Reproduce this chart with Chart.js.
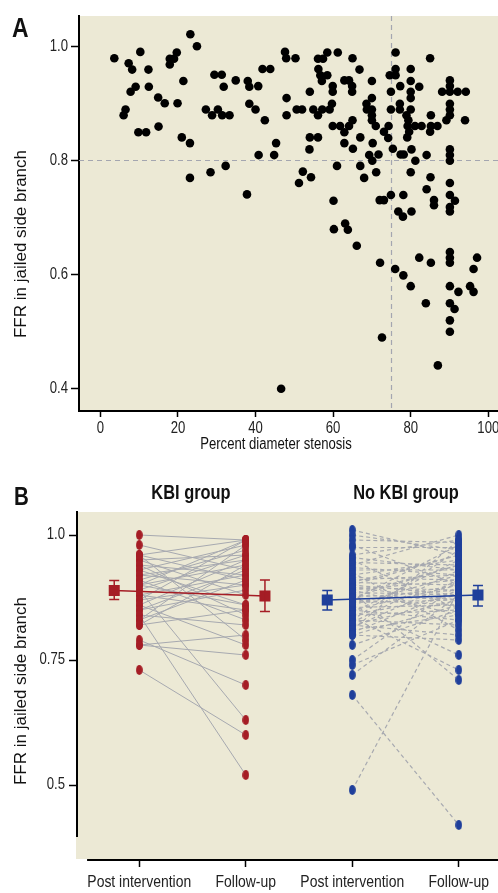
<!DOCTYPE html>
<html><head><meta charset="utf-8">
<script src="https://cdn.jsdelivr.net/npm/chart.js@4.4.1/dist/chart.umd.min.js"></script>
<style>
html,body{margin:0;padding:0;background:#fff;width:498px;height:893px;overflow:hidden;}
#wrap{position:relative;width:498px;height:893px;}
canvas{position:absolute;left:0;}
.t{position:absolute;white-space:nowrap;color:#111;font-family:'Liberation Sans',Arial,sans-serif;}
.cond{transform:scaleX(0.82);}
.condL{transform:scaleX(0.82);transform-origin:left center;}
.rot{transform:rotate(-90deg);text-align:center;}
</style></head>
<body><div id="wrap">
<canvas id="cA" width="498" height="460" style="top:0"></canvas>
<canvas id="cB" width="498" height="423" style="top:470px"></canvas>
<div class="t condL" style="left:12px;top:14px;font-size:28px;line-height:28px;font-weight:bold;">A</div>
<div class="t condL" style="left:14px;top:484px;font-size:25px;line-height:25px;font-weight:bold;">B</div>
<div class="t cond" id="g1" style="left:91px;width:200px;text-align:center;top:482px;font-size:20px;line-height:20px;font-weight:bold;"></div>
<div class="t cond" id="g2" style="left:306px;width:200px;text-align:center;top:482px;font-size:20px;line-height:20px;font-weight:bold;"></div>
<div class="t rot" id="yA" style="left:-109px;width:260px;top:234px;font-size:17px;line-height:20px;"></div>
<div class="t rot" id="yB" style="left:-109px;width:260px;top:681px;font-size:17px;line-height:20px;"></div>
<div class="t cond" id="xA" style="left:176px;width:200px;text-align:center;top:436px;font-size:16px;line-height:16px;"></div>
</div>
<script>
// ---------- Panel A data ----------
const stenosis = [3.6,7.3,8.2,10.3,9.1,7.8,6.5,6.0,9.8,11.8,12.4,12.5,14.9,16.6,15.0,17.9,19.0,17.9,19.7,21.4,
19.9,21.0,23.1,23.2,24.9,23.1,28.4,32.3,29.4,31.3,31.8,34.9,27.2,28.8,30.3,31.4,33.3,38.0,38.4,38.4,
37.8,40.7,40.0,41.8,43.8,42.4,47.6,47.9,50.3,48.0,48.0,50.6,52.0,45.3,40.8,44.8,54.0,56.1,57.4,58.5,
61.2,56.2,56.7,57.1,58.5,54.9,57.2,59.1,59.7,56.1,54.0,56.1,53.9,59.9,59.9,59.9,61.8,62.9,64.1,65.0,
62.9,65.1,61.0,52.2,51.2,54.3,60.1,62.9,64.1,64.9,64.9,65.0,66.8,70.0,70.0,68.6,68.7,70.0,70.0,70.0,
71.0,67.0,70.2,69.3,70.1,71.1,68.0,71.7,67.0,74.3,73.1,74.2,74.9,74.9,74.6,76.1,76.1,76.1,77.3,77.2,
77.2,75.4,74.9,78.1,72.0,73.1,76.8,78.0,80.2,77.4,78.2,80.0,80.0,80.0,80.0,80.0,82.2,78.9,79.4,79.2,
79.6,79.1,81.1,82.8,80.2,81.2,80.0,84.1,85.0,85.2,85.2,85.0,86.9,85.1,84.1,86.0,86.0,90.1,90.1,88.1,
90.1,92.1,94.2,90.1,90.1,90.1,89.2,94.0,90.1,90.1,90.1,90.1,90.1,91.4,90.1,90.1,60.2,63.1,63.8,66.1,
72.1,76.0,78.1,80.0,82.2,85.2,90.1,90.1,90.1,97.1,96.2,90.1,92.3,95.3,96.2,83.9,90.1,91.3,90.1,90.1,
72.6,87.0,46.6];
const ffrA = [0.979,0.970,0.959,0.990,0.929,0.920,0.889,0.879,0.849,0.849,0.959,0.929,0.910,0.900,0.859,0.978,0.978,0.968,0.989,0.939,
0.900,0.840,0.830,1.021,1.000,0.769,0.779,0.790,0.950,0.950,0.929,0.940,0.889,0.879,0.889,0.879,0.879,0.939,0.929,0.899,
0.740,0.930,0.889,0.960,0.960,0.870,0.990,0.979,0.979,0.909,0.879,0.889,0.889,0.830,0.809,0.809,0.920,0.978,0.978,0.989,
0.989,0.960,0.949,0.939,0.949,0.889,0.889,0.889,0.899,0.879,0.840,0.840,0.819,0.930,0.920,0.860,0.860,0.849,0.860,0.870,
0.830,0.820,0.790,0.780,0.760,0.770,0.729,0.940,0.940,0.930,0.920,0.979,0.959,0.939,0.909,0.899,0.889,0.889,0.879,0.870,
0.860,0.840,0.830,0.809,0.799,0.779,0.769,0.810,0.790,0.860,0.850,0.839,0.920,0.889,0.949,0.949,0.960,0.989,0.930,0.899,
0.889,0.820,0.739,0.739,0.730,0.730,0.710,0.701,0.710,0.810,0.810,0.960,0.939,0.920,0.909,0.889,0.929,0.879,0.870,0.860,
0.850,0.840,0.860,0.860,0.819,0.799,0.779,0.809,0.979,0.879,0.860,0.850,0.860,0.770,0.749,0.730,0.721,0.940,0.930,0.920,
0.920,0.920,0.920,0.899,0.889,0.879,0.870,0.870,0.819,0.809,0.799,0.760,0.739,0.729,0.718,0.710,0.679,0.689,0.678,0.650,
0.620,0.609,0.598,0.579,0.629,0.620,0.639,0.629,0.620,0.629,0.609,0.579,0.569,0.579,0.569,0.549,0.549,0.539,0.519,0.499,
0.489,0.440,0.399];
const xTicksA = [0,20,40,60,80,100];
const yTicksA = [0.4,0.6,0.8,1.0];
const yTickLabelsA = ['0.4','0.6','0.8','1.0'];
const refStenosis = 75;
const refFFR = 0.8;
const xTitleA = 'Percent diameter stenosis';
const yTitle = 'FFR in jailed side branch';

// ---------- Panel B data ----------
const groups = ['KBI group','No KBI group'];
const timepoints = ['Post intervention','Follow-up','Post intervention','Follow-up'];
const kbiPost   = [1.00,0.98,0.96,0.95,0.95,0.94,0.94,0.93,0.93,0.92,0.92,0.91,0.91,0.90,0.90,0.89,0.89,0.88,0.88,0.87,
                   0.87,0.86,0.86,0.85,0.85,0.84,0.84,0.83,0.83,0.82,0.82,0.79,0.78,0.78,0.73,0.96,0.96,0.90];
const kbiFollow = [0.99,0.93,0.99,0.88,0.96,0.84,0.92,0.98,0.86,0.95,0.90,0.83,0.97,0.94,0.86,0.63,0.96,0.92,0.85,0.99,
                   0.90,0.78,0.95,0.89,0.93,0.52,0.82,0.98,0.91,0.85,0.94,0.70,0.80,0.76,0.60,0.91,0.79,0.99];
const noKbiPost   = [1.01,1.00,0.99,0.98,0.975,0.96,0.955,0.95,0.945,0.94,0.935,0.93,0.925,0.92,0.915,0.91,0.905,0.90,0.90,0.895,
                     0.89,0.89,0.885,0.88,0.88,0.875,0.87,0.87,0.865,0.86,0.86,0.855,0.85,0.85,0.845,0.84,0.84,0.835,0.83,0.83,
                     0.825,0.82,0.82,0.815,0.81,0.81,0.805,0.80,0.80,0.78,0.75,0.74,0.72,0.68,0.49,0.905,0.895,0.885,0.875,0.865];
const noKbiFollow = [0.96,0.97,0.985,0.90,0.975,0.99,0.93,0.85,0.94,1.00,0.92,0.93,0.81,0.95,0.91,0.92,0.90,0.96,0.88,0.89,
                     0.91,0.84,0.88,0.94,0.87,0.89,0.86,0.98,0.87,0.92,0.76,0.86,0.90,0.83,0.95,0.85,0.88,0.73,0.97,0.82,
                     0.93,0.87,0.80,0.91,0.84,0.99,0.89,0.86,0.79,0.85,0.90,0.83,0.88,0.42,0.89,0.96,0.87,0.71,0.94,0.90];
const meanKbi   = [0.889,0.878], loKbi   = [0.871,0.847], hiKbi   = [0.909,0.910];
const meanNoKbi = [0.870,0.880], loNoKbi = [0.850,0.858], hiNoKbi = [0.889,0.899];
const yTicksB = [0.5,0.75,1.0];
const yTickLabelsB = ['0.5','0.75','1.0'];

// ---------- styles ----------
const FONT = "'Liberation Sans', Arial, sans-serif";
const BEIGE = 'rgb(236,233,213)';
const RED = '#a51d25';
const BLUE = '#1f3f9b';
const GRAY = '#a7a9b0';
const MEAN_OFF = {pre:-0.235, post:0.18};

document.getElementById('g1').textContent = groups[0];
document.getElementById('g2').textContent = groups[1];
document.getElementById('yA').textContent = yTitle;
document.getElementById('yB').textContent = yTitle;
document.getElementById('xA').textContent = xTitleA;

Chart.defaults.font.family = FONT;
Chart.defaults.color = '#222';

// condensed look for canvas text (the reference uses a narrow typeface)
function condense(canvas, k){
  const ctx = canvas.getContext('2d');
  const orig = ctx.fillText.bind(ctx);
  ctx.fillText = function(t, x, y, mw){
    const w = ctx.measureText(t).width * k;
    return orig(t, x, y, (mw !== undefined && mw !== null) ? Math.min(mw, w) : w);
  };
}
condense(document.getElementById('cA'), 0.82);
condense(document.getElementById('cB'), 0.82);

const beige = {id:'beige', beforeDraw(chart){
  const {ctx, chartArea:a} = chart; ctx.save(); ctx.fillStyle = BEIGE;
  ctx.fillRect(a.left, a.top, a.right - a.left, a.bottom - a.top); ctx.restore();
}};

const refLines = {id:'refLines', beforeDatasetsDraw(chart){
  const {ctx, chartArea:a, scales:{x, y}} = chart;
  ctx.save(); ctx.strokeStyle = '#a4a6b0'; ctx.lineWidth = 1.2; ctx.setLineDash([5,4]);
  const px = Math.round(x.getPixelForValue(refStenosis)) + 0.5;
  const py = Math.round(y.getPixelForValue(refFFR)) + 0.5;
  ctx.beginPath(); ctx.moveTo(px, a.top); ctx.lineTo(px, a.bottom); ctx.stroke();
  ctx.beginPath(); ctx.moveTo(a.left, py); ctx.lineTo(a.right, py); ctx.stroke();
  ctx.restore();
}};

function tickGrid(len){ return {drawOnChartArea:false, drawTicks:true, tickLength:len, tickColor:'#000', tickWidth:1.5}; }
function fitX(h){ return s=>{ s.height = h; s.paddingLeft = 0; s.paddingRight = 0; }; }
function fitY(w){ return s=>{ s.width = w; s.paddingTop = 0; s.paddingBottom = 0; }; }

new Chart(document.getElementById('cA'), {
  type:'scatter',
  data:{datasets:[{
    data: stenosis.map((s,i)=>({x:s, y:ffrA[i]})),
    pointRadius:4.3, pointBackgroundColor:'#000', pointBorderWidth:0
  }]},
  options:{
    responsive:false, animation:false, devicePixelRatio:1,
    layout:{autoPadding:false, padding:{top:16,left:0,right:0,bottom:0}},
    plugins:{legend:{display:false}, tooltip:{enabled:false}},
    scales:{
      x:{type:'linear', min:-5.5, max:102.5,
         afterBuildTicks:s=>{s.ticks = xTicksA.map(v=>({value:v}));},
         ticks:{callback:(v)=>String(v), font:{size:16}, padding:2, maxRotation:0, autoSkip:false},
         grid:tickGrid(6), border:{display:true, color:'#000', width:2},
         afterFit:fitX(49)},
      y:{type:'linear', min:0.36, max:1.053,
         afterBuildTicks:s=>{s.ticks = yTicksA.map(v=>({value:v}));},
         ticks:{callback:(v,i)=>yTickLabelsA[i], font:{size:16}, padding:3, autoSkip:false},
         grid:tickGrid(8), border:{display:true, color:'#000', width:2},
         afterFit:fitY(79)}
    }
  },
  plugins:[beige, refLines]
});

// ---------- Panel B ----------
function ellipse(color){
  const c = document.createElement('canvas'); c.width = 7; c.height = 10;
  const g = c.getContext('2d'); g.fillStyle = color; g.beginPath();
  g.ellipse(3.5,5,3.4,4.9,0,0,Math.PI*2); g.fill(); return c;
}
function pairLines(pre, post, x0, x1){
  const d = [];
  pre.forEach((v,i)=>{ d.push({x:x0,y:v},{x:x1,y:post[i]},{x:x1,y:null}); });
  return d;
}
function column(vals, x){ return vals.map(v=>({x:x, y:v})); }

const errBars = {id:'errBars', afterDatasetsDraw(chart){
  const {ctx, scales:{x, y}} = chart;
  const sets = [
    {xs:[1+MEAN_OFF.pre, 2+MEAN_OFF.post], lo:loKbi, hi:hiKbi, c:RED},
    {xs:[3+MEAN_OFF.pre, 4+MEAN_OFF.post], lo:loNoKbi, hi:hiNoKbi, c:BLUE}
  ];
  ctx.save(); ctx.lineWidth = 1.5;
  sets.forEach(s=>{
    ctx.strokeStyle = s.c;
    s.xs.forEach((xv,i)=>{
      const px = x.getPixelForValue(xv), a = y.getPixelForValue(s.lo[i]), b = y.getPixelForValue(s.hi[i]);
      ctx.beginPath(); ctx.moveTo(px,a); ctx.lineTo(px,b);
      ctx.moveTo(px-5,a); ctx.lineTo(px+5,a); ctx.moveTo(px-5,b); ctx.lineTo(px+5,b); ctx.stroke();
    });
  });
  ctx.restore();
}};

const axesB = {id:'axesB', afterDraw(chart){
  const {ctx, chartArea:a, scales:{x, y}} = chart;
  ctx.save(); ctx.strokeStyle = '#000'; ctx.lineWidth = 2;
  ctx.beginPath(); ctx.moveTo(a.left+1, y.getPixelForValue(1.048)); ctx.lineTo(a.left+1, y.getPixelForValue(0.396)); ctx.stroke();
  ctx.beginPath(); ctx.moveTo(x.getPixelForValue(0.51), a.bottom+1); ctx.lineTo(a.right, a.bottom+1); ctx.stroke();
  ctx.restore();
}};

const redDot = ellipse(RED), blueDot = ellipse(BLUE);

new Chart(document.getElementById('cB'), {
  type:'scatter',
  data:{datasets:[
    {type:'line', data:pairLines(kbiPost, kbiFollow, 1, 2), borderColor:GRAY, borderWidth:1, pointRadius:0, spanGaps:false, order:6},
    {type:'line', data:pairLines(noKbiPost, noKbiFollow, 3, 4), borderColor:GRAY, borderWidth:1.2, borderDash:[4,3], pointRadius:0, spanGaps:false, order:6},
    {type:'line', data:[{x:1+MEAN_OFF.pre,y:meanKbi[0]},{x:2+MEAN_OFF.post,y:meanKbi[1]}], borderColor:RED, borderWidth:1.3, pointRadius:0, order:5},
    {type:'line', data:[{x:3+MEAN_OFF.pre,y:meanNoKbi[0]},{x:4+MEAN_OFF.post,y:meanNoKbi[1]}], borderColor:BLUE, borderWidth:1.3, pointRadius:0, order:5},
    {data:column(kbiPost,1).concat(column(kbiFollow,2)), pointStyle:redDot, pointRadius:5, order:3},
    {data:column(noKbiPost,3).concat(column(noKbiFollow,4)), pointStyle:blueDot, pointRadius:5, order:3},
    {data:[{x:1+MEAN_OFF.pre,y:meanKbi[0]},{x:2+MEAN_OFF.post,y:meanKbi[1]}], pointStyle:'rect', pointRadius:7.8, pointBackgroundColor:RED, pointBorderWidth:0, order:1},
    {data:[{x:3+MEAN_OFF.pre,y:meanNoKbi[0]},{x:4+MEAN_OFF.post,y:meanNoKbi[1]}], pointStyle:'rect', pointRadius:7.8, pointBackgroundColor:BLUE, pointBorderWidth:0, order:1}
  ]},
  options:{
    responsive:false, animation:false, devicePixelRatio:1,
    layout:{autoPadding:false, padding:{top:42,left:0,right:0,bottom:0}},
    plugins:{legend:{display:false}, tooltip:{enabled:false}},
    scales:{
      x:{type:'linear', min:0.406, max:4.368,
         afterBuildTicks:s=>{s.ticks = [1,2,3,4].map(v=>({value:v}));},
         ticks:{callback:(v,i)=>timepoints[i], font:{size:17}, padding:5, maxRotation:0, autoSkip:false},
         grid:tickGrid(8), border:{display:false},
         afterFit:fitX(34)},
      y:{type:'linear', min:0.352, max:1.046,
         afterBuildTicks:s=>{s.ticks = yTicksB.map(v=>({value:v}));},
         ticks:{callback:(v,i)=>yTickLabelsB[i], font:{size:16}, padding:4, autoSkip:false},
         grid:tickGrid(7), border:{display:false},
         afterFit:fitY(76)}
    }
  },
  plugins:[beige, errBars, axesB]
});
</script>
</body></html>
